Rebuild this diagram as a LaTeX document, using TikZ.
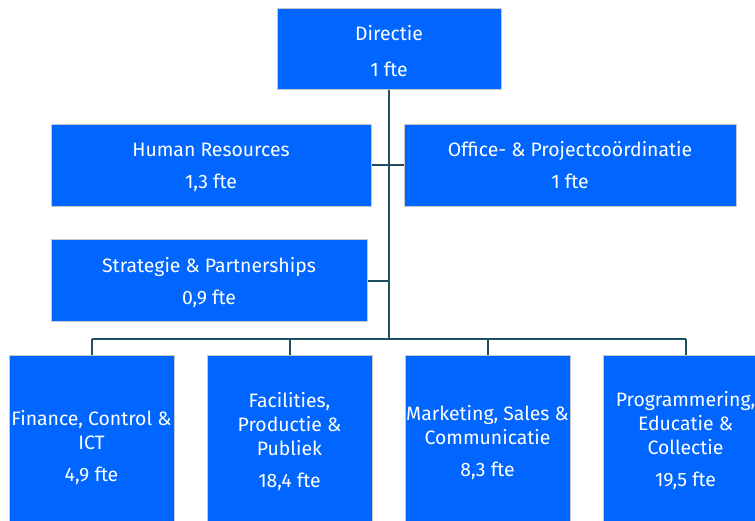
\documentclass[tikz,border=0pt]{standalone}
\usepackage{fontspec}
\setmainfont{Fira Sans}
\definecolor{unitblue}{HTML}{0066FF}
\definecolor{unitedge}{HTML}{C8C8C8}
\definecolor{linkteal}{HTML}{1F4E63}
\begin{document}
\begin{tikzpicture}[x=1pt,y=-1pt,
  unitbox/.style={draw=unitedge, line width=1pt, fill=unitblue, inner sep=0pt},
  topunit/.style={unitbox, minimum height=82pt},
  deptunit/.style={unitbox, minimum width=165pt, minimum height=172pt},
  unittext/.style={text=white, align=center, inner sep=0pt,
    font=\fontsize{19.4}{24}\selectfont},
  link/.style={draw=linkteal, line width=2pt}]
\useasboundingbox (0,0) rectangle (755,520);
\clip (0,0) rectangle (755,520);

% management and staff units
\node[unitbox, minimum width=224pt, minimum height=81pt] (dir) at (389,48.5) {};
\node[topunit, minimum width=320pt] (hr) at (211,165) {};
\node[topunit, minimum width=332pt] (office) at (570,165) {};
\node[topunit, minimum width=316pt] (strat) at (209,280.5) {};

\node[unittext] (dir-t) at (389,53.8) {\strut Directie\\[12pt]1 fte\strut};
\node[unittext] (hr-t) at (211,167.8) {\strut Human Resources\\[8pt]1,3 fte\strut};
\node[unittext] (office-t) at (570,167.8) {\strut Office- \& Projectcoördinatie\\[8pt]1 fte\strut};
\node[unittext] (strat-t) at (209,283.3) {\strut Strategie \& Partnerships\\[8pt]0,9 fte\strut};

% departments
\node[deptunit] (fin) at (91.5,441) {};
\node[deptunit] (fac) at (289.5,441) {};
\node[deptunit] (mkt) at (487.5,441) {};
\node[deptunit] (prog) at (685.5,441) {};

\node[unittext] (fin-t) at (91.5,448.8) {\strut Finance, Control \&\\ICT\\[8pt]4,9 fte\strut};
\node[unittext] (fac-t) at (289.5,442.8) {\strut Facilities,\\Productie \&\\Publiek\\[8pt]18,4 fte\strut};
\node[unittext] (mkt-t) at (487.5,443.3) {\strut Marketing, Sales \&\\Communicatie\\[8pt]8,3 fte\strut};
\node[unittext] (prog-t) at (685.5,441.3) {\strut Programmering,\\Educatie \&\\Collectie\\[8pt]19,5 fte\strut};

% connectors
\coordinate (bus) at (389,339);
\draw[link] (dir.south) -- (bus);
\draw[link] (hr.east) -- (hr.east -| bus);
\draw[link] (office.west) -- (office.west -| bus);
\draw[link] (strat.east) -- (strat.east -| bus);
\draw[link] (fin.north |- bus) -- (prog.north |- bus);
\foreach \d in {fin,fac,mkt,prog}
  \draw[link] (\d.north |- bus) -- (\d.north);
\end{tikzpicture}
\end{document}
